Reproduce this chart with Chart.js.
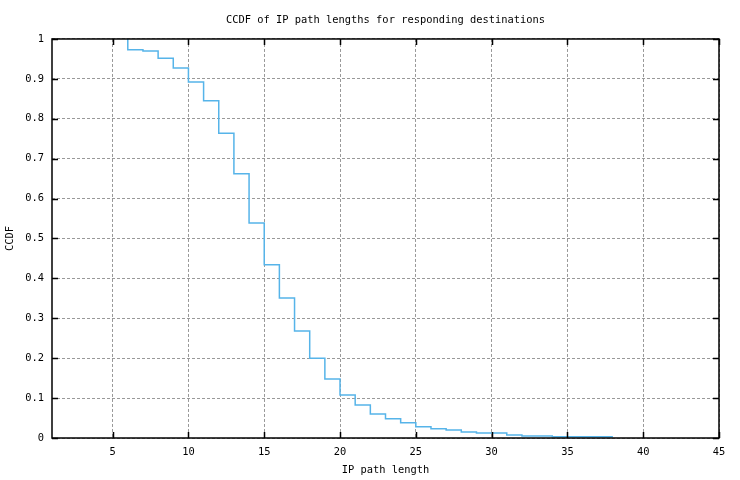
<!DOCTYPE html>
<html>
<head>
<meta charset="utf-8">
<script src="https://cdn.jsdelivr.net/npm/chart.js@4.4.0/dist/chart.umd.min.js"></script>
<style>
  html, body { margin: 0; padding: 0; background: #fff; }
  #chart-wrap { width: 740px; height: 480px; }
</style>
</head>
<body>
<div id="chart-wrap"><canvas id="ccdfChart" width="740" height="480"></canvas></div>
<script>
// step points: value at x is the level held over [x-1, x]
const pathLengths = [6, 7, 8, 9, 10, 11, 12, 13, 14, 15, 16, 17, 18, 19, 20, 21, 22,
                     23, 24, 25, 26, 27, 28, 29, 30, 31, 32, 33, 34, 35, 36, 37, 38];
const ccdfValues = [1, 0.973, 0.970, 0.952, 0.927, 0.892, 0.845, 0.764, 0.662, 0.539,
                    0.434, 0.351, 0.268, 0.200, 0.148, 0.108, 0.083, 0.060, 0.048, 0.038,
                    0.028, 0.023, 0.020, 0.015, 0.0125, 0.0125, 0.0075, 0.005, 0.005,
                    0.003, 0.003, 0.003, 0.003];
const xTickValues = [5, 10, 15, 20, 25, 30, 35, 40, 45];
const yTickValues = [0, 0.1, 0.2, 0.3, 0.4, 0.5, 0.6, 0.7, 0.8, 0.9, 1];

const monoFont = { family: '"DejaVu Sans Mono", monospace', size: 10.4, weight: 'normal' };

// gnuplot-like frame with inward (mirrored) tick marks
const frameAndTicks = {
    id: 'frameAndTicks',
    afterDatasetsDraw(chart) {
        const { ctx, chartArea: a, scales: { x, y } } = chart;
        ctx.save();
        ctx.strokeStyle = '#000';
        ctx.lineWidth = 1.5;
        ctx.strokeRect(a.left, a.top, a.right - a.left, a.bottom - a.top);
        ctx.beginPath();
        xTickValues.forEach(v => {
            const px = Math.round(x.getPixelForValue(v)) + 0.5;
            ctx.moveTo(px, a.bottom); ctx.lineTo(px, a.bottom - 6);
            ctx.moveTo(px, a.top); ctx.lineTo(px, a.top + 6);
        });
        yTickValues.forEach(v => {
            const py = Math.round(y.getPixelForValue(v)) + 0.5;
            ctx.moveTo(a.left, py); ctx.lineTo(a.left + 6, py);
            ctx.moveTo(a.right, py); ctx.lineTo(a.right - 6, py);
        });
        ctx.stroke();
        ctx.restore();
    }
};

const ctx = document.getElementById('ccdfChart').getContext('2d');

const ccdfChart = new Chart(ctx, {
    type: 'line',
    data: {
        datasets: [{
            label: 'CCDF',
            data: pathLengths.map((v, i) => ({ x: v, y: ccdfValues[i] })),
            borderColor: '#56b4e9',
            borderWidth: 1.5,
            stepped: 'after',
            pointRadius: 0,
            fill: false
        }]
    },
    options: {
        responsive: false,
        animation: false,
        devicePixelRatio: 1,
        layout: { padding: { top: 0, right: 21, bottom: 0, left: 0 } },
        plugins: {
            legend: { display: false },
            tooltip: { enabled: false },
            title: {
                display: true,
                fullSize: false,
                text: 'CCDF of IP path lengths for responding destinations',
                color: '#000',
                font: monoFont,
                padding: { top: 14, bottom: 12.5 }
            }
        },
        scales: {
            x: {
                type: 'linear',
                min: 1,
                max: 45,
                afterBuildTicks: scale => { scale.ticks = xTickValues.map(value => ({ value })); },
                afterFit: scale => { scale.height = 42; },
                ticks: { color: '#000', font: monoFont, padding: 8, maxRotation: 0, callback: v => String(v) },
                grid: { color: '#999', lineWidth: 1, drawTicks: false },
                border: { display: false, dash: [3, 2] },
                title: { display: true, text: 'IP path length', color: '#000', font: monoFont, padding: { top: 0, bottom: 3 } }
            },
            y: {
                type: 'linear',
                min: 0,
                max: 1,
                afterBuildTicks: scale => { scale.ticks = yTickValues.map(value => ({ value })); },
                afterFit: scale => { scale.width = 52; },
                ticks: { color: '#000', font: monoFont, padding: 8, callback: v => String(Number(v.toFixed(1))) },
                grid: { color: '#999', lineWidth: 1, drawTicks: false },
                border: { display: false, dash: [3, 2] },
                title: { display: true, text: 'CCDF', color: '#000', font: monoFont, padding: { top: 4, bottom: 0 } }
            }
        }
    },
    plugins: [frameAndTicks]
});
</script>
</body>
</html>
